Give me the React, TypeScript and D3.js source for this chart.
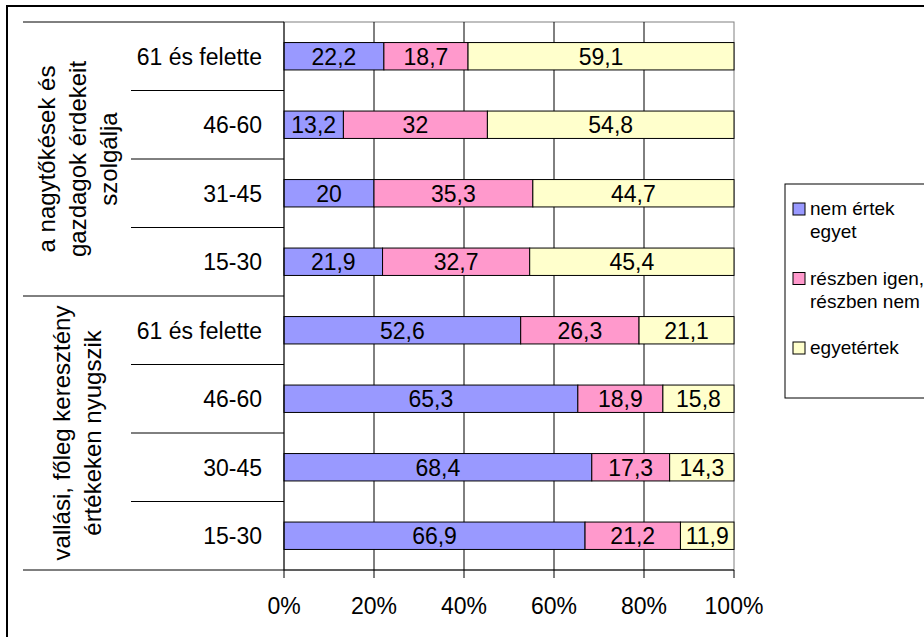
import React from "react";
import * as d3 from "d3";

const groups = [
  { lines: ["a nagytőkések és", "gazdagok érdekeit", "szolgálja"] },
  { lines: ["vallási, főleg keresztény", "értékeken nyugszik"] },
];
const categories = ["61 és felette", "46-60", "31-45", "15-30", "61 és felette", "46-60", "30-45", "15-30"];
const groupOfRow = [0, 0, 0, 0, 1, 1, 1, 1];
const nemErtekEgyet = [22.2, 13.2, 20, 21.9, 52.6, 65.3, 68.4, 66.9];
const reszben = [18.7, 32, 35.3, 32.7, 26.3, 18.9, 17.3, 21.2];
const egyetertek = [59.1, 54.8, 44.7, 45.4, 21.1, 15.8, 14.3, 11.9];
const seriesKeys = ["nem", "resz", "egy"];
const seriesLabels = [["nem értek", "egyet"], ["részben igen,", "részben nem"], ["egyetértek"]];
const seriesColors = ["#9999FF", "#FF99CC", "#FFFFCC"];
const xTicks = [0, 20, 40, 60, 80, 100];

const FONT = "'Liberation Sans', Arial, sans-serif";

export default function App() {
  const W = 924, H = 637;
  const left = 284, right = 734, top = 22, bottom = 570;
  const x = d3.scaleLinear().domain([0, 100]).range([left, right]);
  const rowIds = categories.map((_, i) => String(i));
  const y = d3.scaleBand().domain(rowIds).range([top, bottom]).paddingInner(0.6).paddingOuter(0.3);
  const step = y.step();
  const table = categories.map((c, i) => ({ id: String(i), nem: nemErtekEgyet[i], resz: reszben[i], egy: egyetertek[i] }));
  const stacked = d3.stack<any>().keys(seriesKeys)(table);
  const fmt = (v: number) => String(v).replace(".", ",");

  const rowTop = (i: number) => top + step * i;
  const groupRows = groups.map((_, g) => rowIds.filter((_, i) => groupOfRow[i] === g).map(Number));

  return (
    <div style={{ position: "absolute", left: 0, top: 0 }}>
      <svg width={W} height={H} style={{ display: "block", fontFamily: FONT }}>
        <rect x={0} y={0} width={W} height={H} fill="#fff" />
        {/* outer frame */}
        <rect x={7} y={6} width={1200} height={1200} fill="none" stroke="#000" strokeWidth={2} />
        {/* plot area border (gray) */}
        <rect x={left} y={top} width={right - left} height={bottom - top} fill="none" stroke="#808080" strokeWidth={1} />
        {/* gridlines */}
        {xTicks.slice(1, -1).map((t) => (
          <line key={t} x1={x(t)} x2={x(t)} y1={top} y2={bottom} stroke="#000" strokeWidth={1} />
        ))}
        {/* bars */}
        {stacked.map((s, si) =>
          s.map((d, i) => {
            const x0 = x(d[0]), x1 = x(d[1]);
            const yy = y(String(i))!;
            const v = (table[i] as any)[seriesKeys[si]];
            return (
              <g key={si + "-" + i}>
                <rect x={x0} y={yy} width={x1 - x0} height={y.bandwidth()} fill={seriesColors[si]} stroke="#000" strokeWidth={1} />
                <text x={(x0 + x1) / 2} y={yy + y.bandwidth() / 2} dy="0.36em" textAnchor="middle" fontSize={23} fill="#000">
                  {fmt(v)}
                </text>
              </g>
            );
          })
        )}
        {/* axes */}
        <line x1={left} x2={left} y1={top} y2={bottom} stroke="#000" strokeWidth={1} />
        <line x1={left} x2={right} y1={bottom} y2={bottom} stroke="#000" strokeWidth={1} />
        {xTicks.map((t) => (
          <g key={t}>
            <line x1={x(t)} x2={x(t)} y1={bottom} y2={bottom + 8} stroke="#000" strokeWidth={1} />
            <text x={x(t)} y={614} textAnchor="middle" fontSize={23} fill="#000">{t + "%"}</text>
          </g>
        ))}
        {/* category separators */}
        {categories.map((_, i) => {
          if (i === 0) return null;
          const yy = rowTop(i);
          const isGroupBoundary = groupOfRow[i] !== groupOfRow[i - 1];
          return <line key={i} x1={isGroupBoundary ? 23 : 131} x2={left} y1={yy} y2={yy} stroke="#000" strokeWidth={1} />;
        })}
        <line x1={23} x2={left} y1={top} y2={top} stroke="#000" strokeWidth={1} />
        <line x1={23} x2={left} y1={bottom} y2={bottom} stroke="#000" strokeWidth={1} />
        {/* category labels */}
        {categories.map((c, i) => (
          <text key={i} x={262} y={y(String(i))! + y.bandwidth() / 2} dy="0.36em" textAnchor="end" fontSize={23} fill="#000">
            {c}
          </text>
        ))}
        {/* group labels */}
        {groups.map((g, gi) => {
          const rows = groupRows[gi];
          const cy = (rowTop(rows[0]) + rowTop(rows[rows.length - 1]) + step) / 2;
          const cx = 77;
          const lh = 31;
          const n = g.lines.length;
          return (
            <g key={gi} transform={`translate(${cx},${cy}) rotate(-90)`}>
              {g.lines.map((ln, li) => (
                <text key={li} x={0} y={(li - (n - 1) / 2) * lh} dy="0.36em" textAnchor="middle" fontSize={24} fill="#000">
                  {ln}
                </text>
              ))}
            </g>
          );
        })}
        {/* legend */}
        <rect x={785} y={184} width={300} height={214} fill="#fff" stroke="#000" strokeWidth={1} />
        {seriesLabels.map((lines, si) => {
          const base = 215 + si * 69.5;
          return (
            <g key={si}>
              <rect x={793} y={base - 12} width={12} height={12} fill={seriesColors[si]} stroke="#000" strokeWidth={1} />
              {lines.map((ln, li) => (
                <text key={li} x={810} y={base + li * 23} fontSize={19} fill="#000">{ln}</text>
              ))}
            </g>
          );
        })}
      </svg>
    </div>
  );
}
